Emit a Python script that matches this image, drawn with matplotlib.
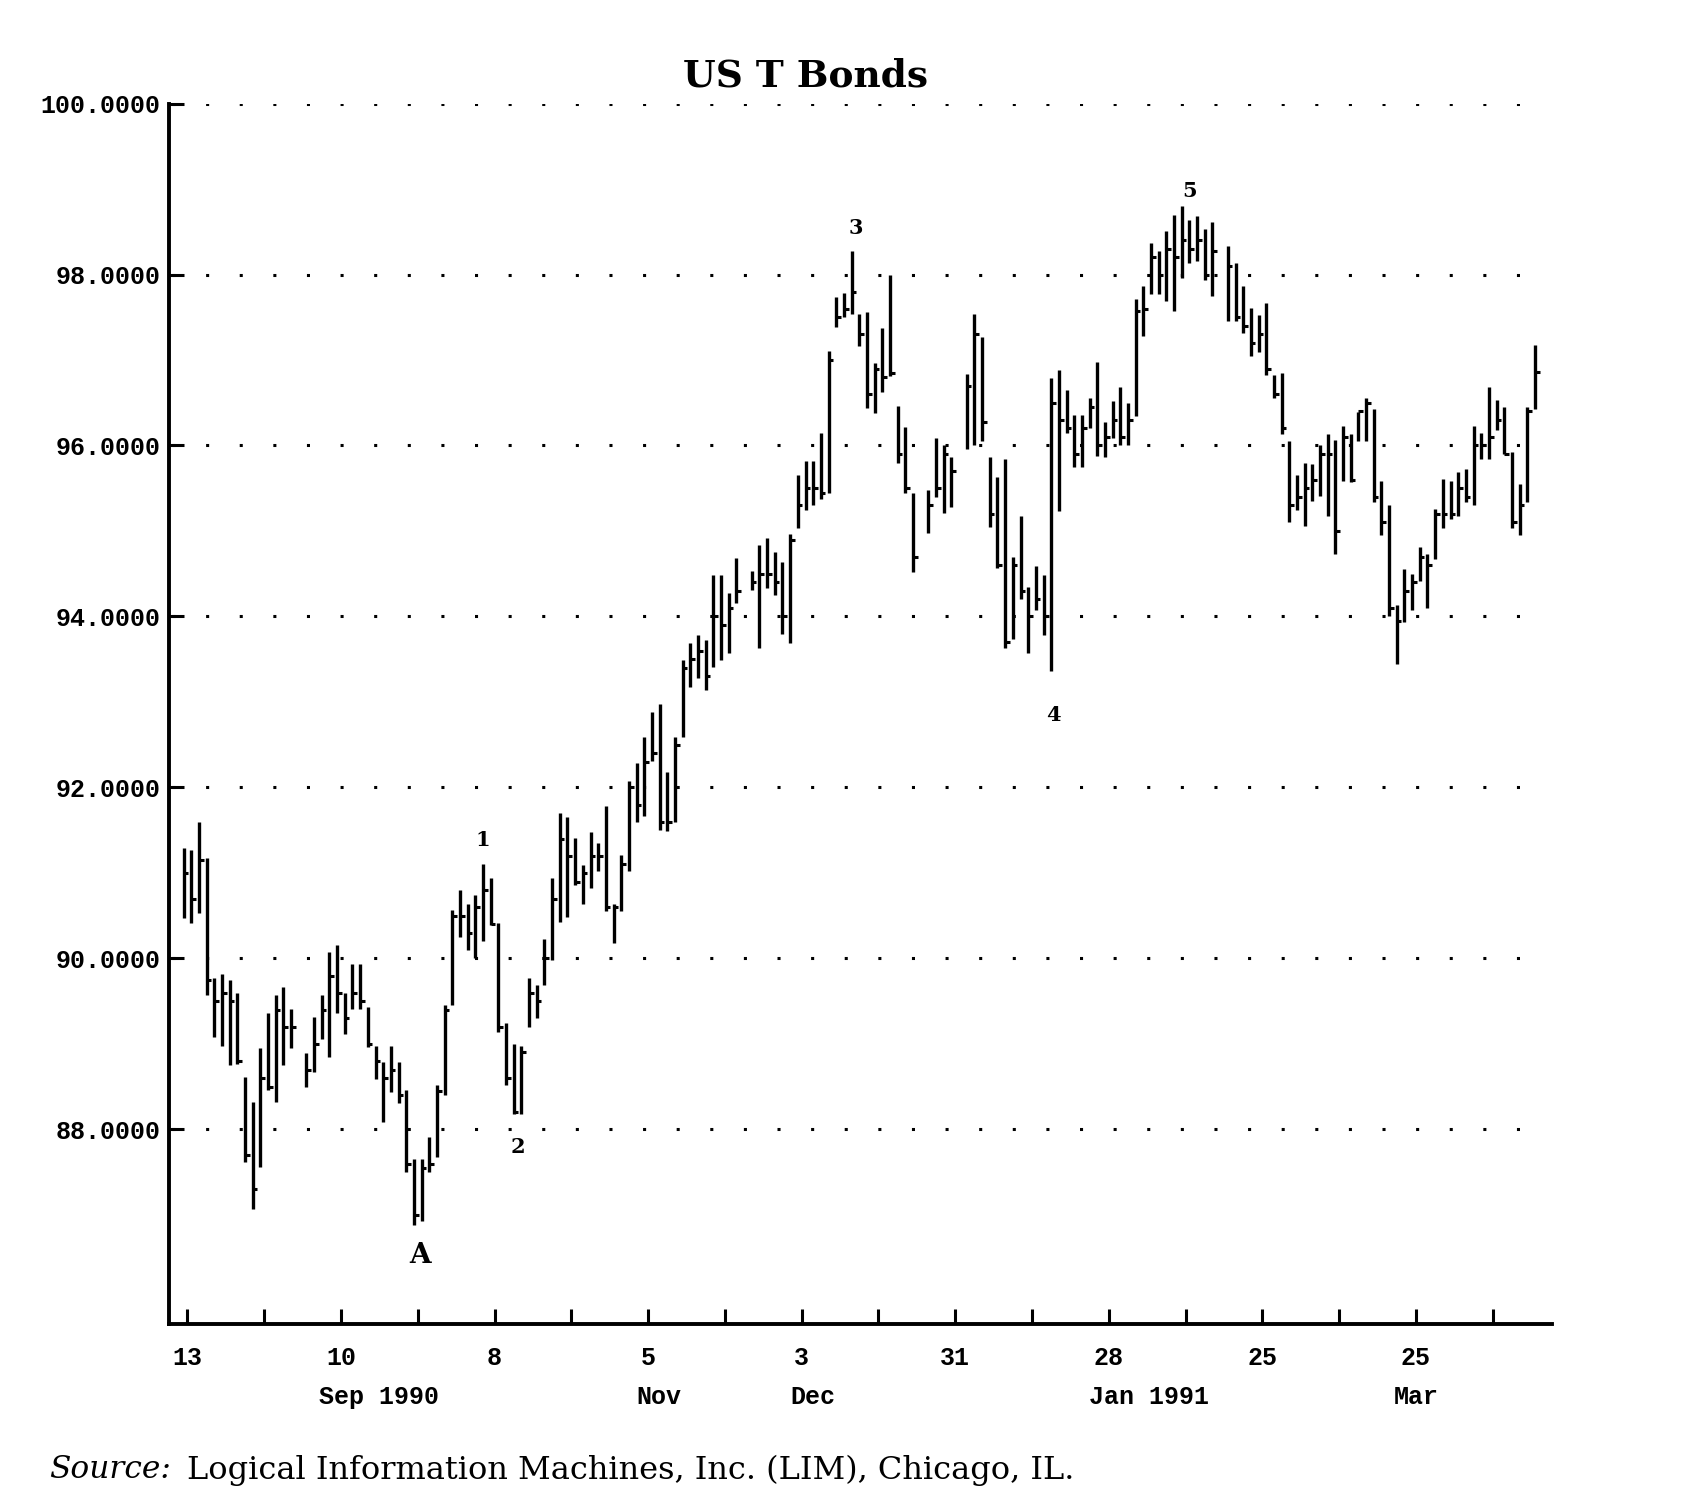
import numpy as np
import matplotlib
matplotlib.use("Agg")
import matplotlib.pyplot as plt
from matplotlib.transforms import blended_transform_factory

nan = np.nan

# one entry per weekday starting Mon 13 Aug 1990 (nan = exchange holiday)
highs = [91.29, 91.27, 91.60, 91.17, 89.77, 89.82, 89.75, 89.60, 88.61, 88.32,
         88.95, 89.36, 89.57, 89.67, 89.41, nan, 88.89, 89.32, 89.57, 90.08,
         90.16, 89.60, 89.94, 89.94, 89.43, 88.98, 88.79, 88.98, 88.79, 88.46,
         87.66, 87.66, 87.91, 88.52, 89.45, 90.57, 90.80, 90.64, 90.74, 91.11,
         90.94, 90.41, 89.24, 89.00, 88.98, 89.77, 89.69, 90.23, 90.94, 91.70,
         91.66, 91.41, 91.09, 91.48, 91.35, 91.78, 90.64, 91.21, 92.08, 92.29,
         92.59, 92.88, 92.98, 92.18, 92.59, 93.49, 93.69, 93.78, 93.73, 94.49,
         94.49, 94.27, 94.68, nan, 94.53, 94.84, 94.92, 94.76, 94.64, 94.96,
         95.66, 95.82, 95.82, 96.15, 97.10, 97.74, 97.78, 98.28, 97.54, 97.56,
         96.96, 97.37, 97.99, 96.46, 96.22, 95.45, nan, 95.48, 96.09, 96.00,
         95.86, nan, 96.84, 97.54, 97.27, 95.86, 95.63, 95.84, 94.70, 95.17,
         94.34, 94.59, 94.49, 96.79, 96.88, 96.65, 96.36, 96.36, 96.55, 96.98,
         96.27, 96.52, 96.68, 96.50, 97.71, 97.86, 98.37, 98.27, 98.51, 98.70,
         98.80, 98.64, 98.68, 98.53, 98.62, nan, 98.33, 98.14, 97.86, 97.61,
         97.53, 97.67, 96.83, 96.85, 96.05, 95.65, 95.80, 95.78, 96.00, 96.13,
         96.07, 96.23, 96.13, 96.39, 96.56, 96.43, 95.59, 95.30, 94.14, 94.55,
         94.50, 94.81, 94.73, 95.26, 95.61, 95.59, 95.69, 95.73, 96.23, 96.15,
         96.68, 96.53, 96.45, 95.92, 95.55, 96.45, 97.17]
lows = [90.47, 90.41, 90.53, 89.57, 89.08, 88.98, 88.75, 88.77, 87.62, 87.07,
        87.56, 88.46, 88.32, 88.75, 88.95, nan, 88.50, 88.67, 89.06, 88.85,
        89.36, 89.12, 89.41, 89.41, 88.97, 88.59, 88.09, 88.44, 88.31, 87.50,
        86.88, 86.93, 87.50, 87.68, 88.40, 89.45, 90.25, 90.10, 90.00, 90.20,
        90.39, 89.14, 88.52, 88.18, 88.18, 89.20, 89.30, 89.69, 89.98, 90.43,
        90.49, 90.86, 90.64, 90.82, 91.02, 90.55, 90.18, 90.55, 91.02, 91.60,
        91.67, 92.31, 91.50, 91.49, 91.60, 92.59, 93.18, 93.28, 93.14, 93.41,
        93.49, 93.57, 94.16, nan, 94.31, 93.63, 94.33, 94.25, 93.80, 93.69,
        95.04, 95.24, 95.30, 95.37, 95.45, 97.39, 97.50, 97.54, 97.16, 96.44,
        96.38, 96.63, 96.81, 95.80, 95.45, 94.52, nan, 94.98, 95.40, 95.21,
        95.28, nan, 95.96, 96.00, 96.05, 95.05, 94.57, 93.63, 93.74, 94.20,
        93.57, 94.07, 93.78, 93.36, 95.23, 96.15, 95.75, 95.75, 96.20, 95.88,
        95.86, 96.09, 96.00, 96.00, 96.35, 97.28, 97.77, 97.77, 97.69, 97.57,
        97.96, 98.14, 98.16, 97.94, 97.75, nan, 97.46, 97.46, 97.32, 97.05,
        97.09, 96.83, 96.56, 96.13, 95.10, 95.24, 95.06, 95.35, 95.41, 95.18,
        94.73, 95.59, 95.57, 96.05, 96.05, 95.34, 94.95, 94.00, 93.45, 93.93,
        94.07, 94.42, 94.10, 94.67, 95.04, 95.14, 95.18, 95.34, 95.30, 95.84,
        95.84, 96.18, 95.90, 95.04, 94.95, 95.34, 96.43]
closes = [91.00, 90.70, 91.15, 89.75, 89.50, 89.60, 89.50, 88.80, 87.70, 87.30,
          88.60, 88.50, 89.40, 89.20, 89.20, nan, 88.70, 89.00, 89.40, 89.80,
          89.60, 89.30, 89.60, 89.50, 89.00, 88.80, 88.60, 88.70, 88.40, 87.60,
          87.00, 87.55, 87.60, 88.45, 89.40, 90.50, 90.50, 90.30, 90.60, 90.80,
          90.40, 89.20, 88.60, 88.20, 88.90, 89.60, 89.50, 90.00, 90.70, 91.40,
          91.20, 90.90, 91.00, 91.20, 91.20, 90.60, 90.60, 91.10, 92.00, 91.80,
          92.30, 92.40, 91.60, 91.60, 92.50, 93.40, 93.50, 93.60, 93.30, 94.00,
          93.90, 94.10, 94.30, nan, 94.40, 94.50, 94.50, 94.40, 94.00, 94.90,
          95.30, 95.50, 95.50, 95.45, 97.00, 97.50, 97.60, 97.80, 97.30, 96.60,
          96.90, 96.80, 96.85, 95.90, 95.50, 94.70, nan, 95.30, 95.50, 95.90,
          95.70, nan, 96.70, 97.30, 96.27, 95.20, 94.60, 93.70, 94.60, 94.30,
          94.00, 94.20, 94.00, 96.50, 96.30, 96.20, 95.90, 96.20, 96.45, 96.00,
          96.10, 96.30, 96.10, 96.30, 97.57, 97.60, 98.20, 98.00, 98.30, 98.20,
          98.40, 98.30, 98.40, 98.00, 98.27, nan, 98.10, 97.50, 97.40, 97.20,
          97.30, 96.90, 96.60, 96.20, 95.30, 95.40, 95.50, 95.60, 95.90, 95.90,
          95.00, 96.10, 95.60, 96.40, 96.50, 95.40, 95.10, 94.10, 93.95, 94.30,
          94.40, 94.70, 94.60, 95.20, 95.20, 95.20, 95.50, 95.40, 96.00, 96.00,
          96.10, 96.30, 95.90, 95.10, 95.30, 96.40, 96.86]

price_ticks = [88, 90, 92, 94, 96, 98, 100]
day_labels = ["13", "", "10", "", "8", "", "5", "", "3", "",
              "31", "", "28", "", "25", "", "25", ""]
month_labels = ["Sep 1990", "Nov", "Dec", "Jan 1991", "Mar"]
month_pos = [25.4, 61.9, 81.9, 125.7, 160.5]
wave_labels = ["A", "1", "2", "3", "4", "5"]
wave_pos = [(30.8, 86.52), (38.9, 91.38), (43.6, 87.80),
            (87.6, 98.54), (113.3, 92.85), (131.0, 98.98)]

MONO = "Liberation Mono"
SERIF = "DejaVu Serif"

fig = plt.figure(figsize=(17.08, 14.96), dpi=100)
ax = fig.add_axes([0.0988, 0.1153, 0.8098, 0.8155])

x = np.arange(len(highs))
ax.vlines(x, lows, highs, color="black", lw=2.4)
ax.hlines(closes, x, x + 0.6, color="black", lw=2.2)

# dotted price grid
for p in price_ticks:
    ax.hlines(p, -1.5, 178.0, color="black", lw=2.2, linestyles=(0, (1, 10)))

for lab, (wx, wy) in zip(wave_labels, wave_pos):
    ax.text(wx, wy, lab, ha="center", va="center", family=SERIF, weight="bold",
            fontsize=20 if lab == "A" else 15)

ax.set_xlim(-1.93, 178.2)
ax.set_ylim(85.73, 100)
ax.set_yticks(price_ticks)
ax.set_yticklabels([f"{p:.4f}" for p in price_ticks], family=MONO,
                   fontsize=18, weight="bold")
ax.set_xticks(np.arange(len(day_labels)) * 10 + 0.5)
ax.set_xticklabels(day_labels, family=MONO, fontsize=18, weight="bold")
ax.tick_params(axis="x", direction="in", length=11, width=2.2, pad=16)
ax.tick_params(axis="y", direction="in", length=11, width=2.2, pad=6)
for s in ("top", "right"):
    ax.spines[s].set_visible(False)
for s in ("left", "bottom"):
    ax.spines[s].set_linewidth(2.8)

tr = blended_transform_factory(ax.transData, ax.transAxes)
for lab, mx in zip(month_labels, month_pos):
    ax.text(mx, -0.06, lab, transform=tr, ha="center", va="center",
            family=MONO, fontsize=18, weight="bold")

fig.text(806 / 1708, 1 - 76 / 1496, "US T Bonds", ha="center", va="center",
         family=SERIF, weight="bold", fontsize=27)

src = fig.text(49 / 1708, 1 - 1470 / 1496, "Source:", ha="left", va="center",
               family=SERIF, style="italic", fontsize=22.5)
fig.canvas.draw()
bb = src.get_window_extent(fig.canvas.get_renderer())
fig.text((bb.x1 + 16) / fig.bbox.width, 1 - 1470 / 1496,
         "Logical Information Machines, Inc. (LIM), Chicago, IL.",
         ha="left", va="center", family=SERIF, fontsize=23)

fig.savefig("out.png", dpi=100, facecolor="white")
